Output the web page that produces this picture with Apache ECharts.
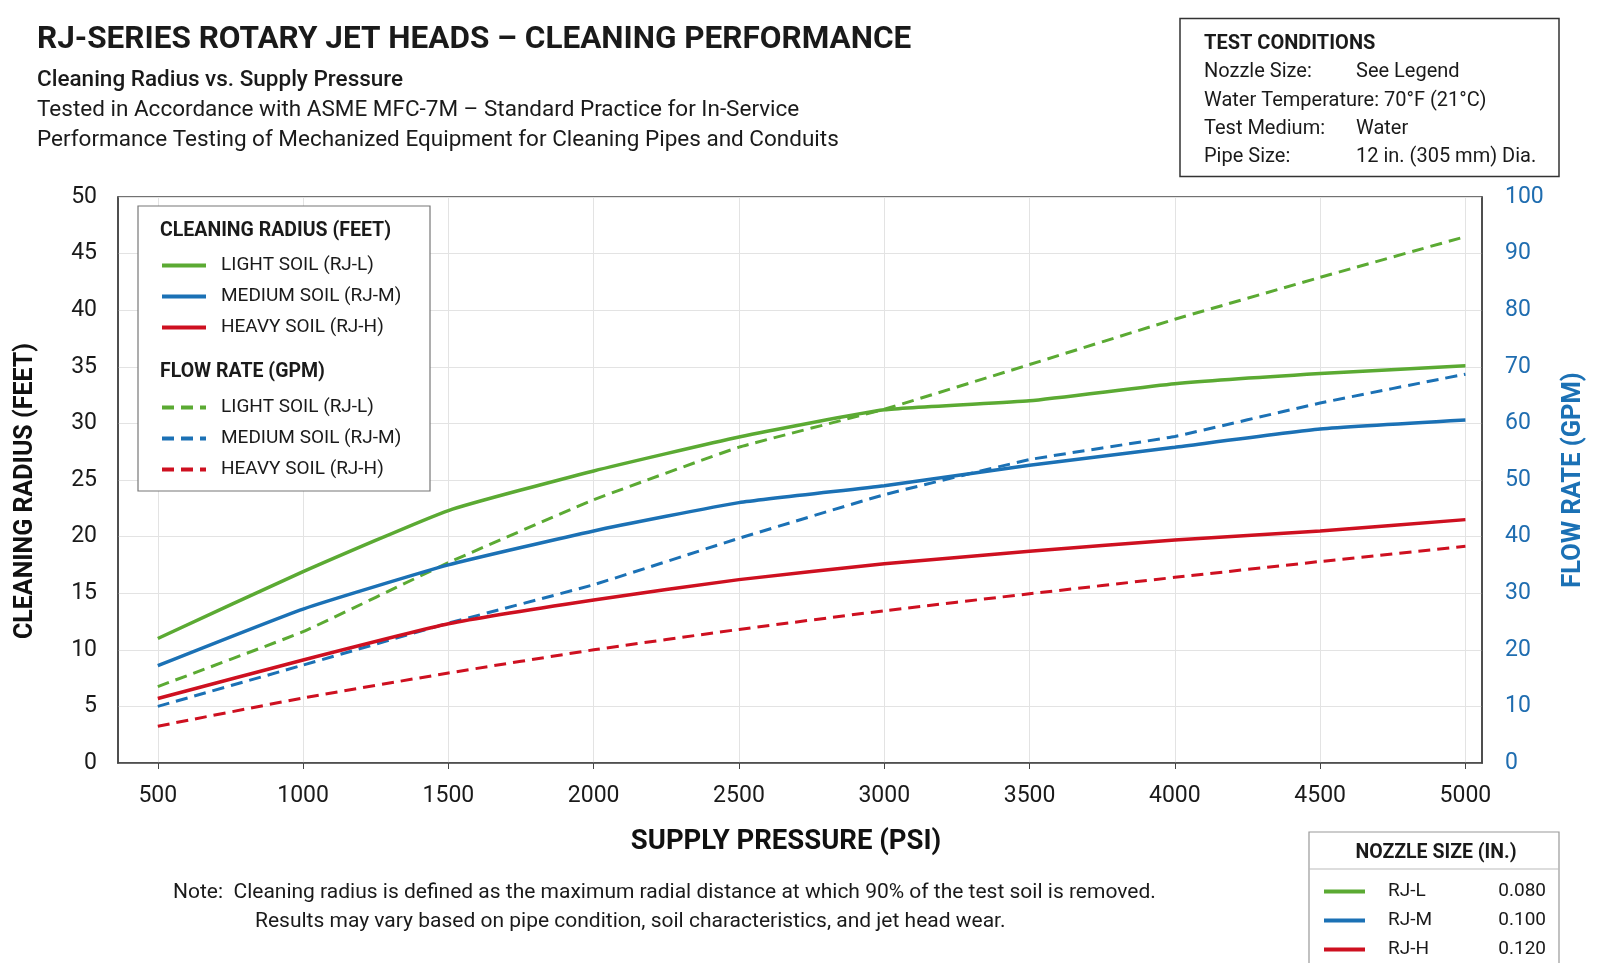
<!DOCTYPE html>
<html>
<head>
<meta charset="utf-8">
<title>RJ-Series Rotary Jet Heads – Cleaning Performance</title>
<script src="https://cdn.jsdelivr.net/npm/echarts@6/dist/echarts.min.js"></script>
<style>
  html, body { margin: 0; padding: 0; background: #fff; }
  #chart { width: 1600px; height: 963px; }
</style>
</head>
<body>
<div id="chart"></div>
<script>
// supply pressure (psi) and tick labels
const pressure = [500, 1000, 1500, 2000, 2500, 3000, 3500, 4000, 4500, 5000];
const pressureTicks = [500, 1000, 1500, 2000, 2500, 3000, 3500, 4000, 4500, 5000];

// cleaning radius (feet) - left axis
const radiusLight  = [11.0, 16.9, 22.3, 25.8, 28.8, 31.2, 32.0, 33.5, 34.4, 35.1];
const radiusMedium = [8.6, 13.6, 17.5, 20.5, 23.0, 24.5, 26.3, 27.9, 29.5, 30.3];
const radiusHeavy  = [5.7, 9.1, 12.3, 14.4, 16.2, 17.6, 18.7, 19.7, 20.5, 21.5];

// flow rate (gpm) - right axis
const flowLight  = [13.5, 23.2, 35.4, 46.5, 55.8, 62.5, 70.4, 78.4, 85.8, 93.0];
const flowMedium = [10.0, 17.3, 24.7, 31.5, 39.7, 47.4, 53.6, 57.7, 63.6, 68.7];
const flowHeavy  = [6.5, 11.5, 15.9, 20.0, 23.6, 26.9, 29.9, 32.8, 35.6, 38.3];

// nozzle size table
const nozzleNames = ['RJ-L', 'RJ-M', 'RJ-H'];
const nozzleSizes = ['0.080', '0.100', '0.120'];

const soilNames = ['LIGHT SOIL (RJ-L)', 'MEDIUM SOIL (RJ-M)', 'HEAVY SOIL (RJ-H)'];
const colors = ['#5BAA33', '#1B71B5', '#CE1020'];
const FONT = 'Roboto';

const toPairs = (ys) => pressure.map((x, i) => [x, ys[i]]);

// solid = radius, dashed = flow ( trailing space keeps names unique )
const radiusSets = [radiusLight, radiusMedium, radiusHeavy];
const flowSets = [flowLight, flowMedium, flowHeavy];

const series = [];
radiusSets.forEach((d, i) => {
  series.push({
    name: soilNames[i],
    type: 'line',
    yAxisIndex: 0,
    data: toPairs(d),
    symbol: 'none',
    smooth: 0.15,
    z: 3,
    lineStyle: { color: colors[i], width: 3.5 },
    itemStyle: { color: colors[i] }
  });
});
flowSets.forEach((d, i) => {
  series.push({
    name: soilNames[i] + ' ',
    type: 'line',
    yAxisIndex: 1,
    data: toPairs(d),
    symbol: 'none',
    smooth: 0.1,
    z: 2,
    lineStyle: { color: colors[i], width: 3, type: [12, 7] },
    itemStyle: { color: colors[i] }
  });
});

const chart = echarts.init(document.getElementById('chart'), null, { renderer: 'canvas' });

const txt = (x, y, text, size, weight, extra) => ({
  type: 'text', x: x, y: y, z: 10,
  style: Object.assign({
    text: text, fontSize: size, fontWeight: weight || 'normal',
    fontFamily: FONT, fill: '#1a1a1a', verticalAlign: 'middle', align: 'left'
  }, extra || {})
});

const legendCommon = {
  orient: 'vertical',
  left: 160,
  itemWidth: 44,
  itemHeight: 14,
  itemGap: 12,
  padding: 0,
  selectedMode: false,
  itemStyle: { opacity: 0 },
  lineStyle: { width: 4 },
  textStyle: { fontSize: 19, color: '#1a1a1a', fontFamily: FONT, padding: [0, 0, 0, 10] },
  formatter: (n) => n.trim()
};

const graphic = [
  // titles
  txt(37, 40, 'RJ-SERIES ROTARY JET HEADS – CLEANING PERFORMANCE', 31.5, 'bold'),
  txt(37, 80, 'Cleaning Radius vs. Supply Pressure', 22.5, 500),
  txt(37, 110, 'Tested in Accordance with ASME MFC-7M – Standard Practice for In-Service', 22.5),
  txt(37, 140, 'Performance Testing of Mechanized Equipment for Cleaning Pipes and Conduits', 22.5),

  // axis titles
  txt(26, 491, 'CLEANING RADIUS (FEET)', 25, 'bold', { align: 'center', fill: '#111' }),
  txt(1574, 480, 'FLOW RATE (GPM)', 25.5, 'bold', { align: 'center', fill: '#1B71B5' }),
  txt(786, 842, 'SUPPLY PRESSURE (PSI)', 27.5, 'bold', { align: 'center', fill: '#111' }),

  // test conditions box
  { type: 'rect', z: 5, shape: { x: 1180, y: 18.5, width: 379, height: 158 },
    style: { fill: '#fff', stroke: '#333', lineWidth: 1.5 } },
  txt(1204, 44, 'TEST CONDITIONS', 20, 'bold'),
  txt(1204, 72, 'Nozzle Size:', 20),
  txt(1356, 72, 'See Legend', 20),
  txt(1204, 101, 'Water Temperature: 70°F (21°C)', 20),
  txt(1204, 129, 'Test Medium:', 20),
  txt(1356, 129, 'Water', 20),
  txt(1204, 157, 'Pipe Size:', 20),
  txt(1356, 157, '12 in. (305 mm) Dia.', 20),

  // in-plot legend frame and headings
  { type: 'rect', z: 3, shape: { x: 138, y: 206, width: 292, height: 285 },
    style: { fill: '#fff', stroke: '#777', lineWidth: 1.2 } },
  txt(160, 231, 'CLEANING RADIUS (FEET)', 19.5, 'bold'),
  txt(160, 372, 'FLOW RATE (GPM)', 19.5, 'bold'),

  // note
  txt(173, 893, 'Note:  Cleaning radius is defined as the maximum radial distance at which 90% of the test soil is removed.', 21),
  txt(255, 922, 'Results may vary based on pipe condition, soil characteristics, and jet head wear.', 21),

  // nozzle size table
  { type: 'rect', z: 5, shape: { x: 1309, y: 832, width: 250, height: 160 },
    style: { fill: '#fff', stroke: '#999', lineWidth: 1.2 } },
  { type: 'line', z: 6, shape: { x1: 1309, y1: 869, x2: 1559, y2: 869 },
    style: { stroke: '#bbb', lineWidth: 1 } },
  txt(1436, 853, 'NOZZLE SIZE (IN.)', 19.5, 'bold', { align: 'center' })
];
// rotate the y axis titles
graphic[4].rotation = Math.PI / 2;
graphic[5].rotation = Math.PI / 2;

nozzleNames.forEach((n, i) => {
  const y = 891.5 + i * 29;
  graphic.push({ type: 'line', z: 6, shape: { x1: 1324, y1: y, x2: 1365, y2: y },
    style: { stroke: colors[i], lineWidth: 4 } });
  graphic.push(txt(1388, y, n, 19));
  graphic.push(txt(1546, y, nozzleSizes[i], 19, 'normal', { align: 'right' }));
});

const option = {
  backgroundColor: '#fff',
  animation: false,
  textStyle: { fontFamily: FONT },
  grid: {
    left: 118, right: 118, top: 197, bottom: 200,
    show: true, borderColor: '#444', borderWidth: 1.5, backgroundColor: 'transparent'
  },
  legend: [
    Object.assign({}, legendCommon, { top: 256, data: soilNames }),
    Object.assign({}, legendCommon, { top: 398, data: soilNames.map(n => n + ' ') })
  ],
  xAxis: {
    type: 'value',
    min: 363,
    max: 5057,
    axisLine: { show: true, lineStyle: { color: '#444', width: 1.5 } },
    axisTick: { show: true, length: 6, customValues: pressureTicks, lineStyle: { color: '#444' } },
    axisLabel: {
      customValues: pressureTicks, fontSize: 23, color: '#1a1a1a', margin: 22, fontFamily: FONT,
      formatter: (v) => String(v)
    },
    splitLine: { show: true, lineStyle: { color: '#e3e3e3', width: 1 } }
  },
  yAxis: [
    {
      type: 'value', position: 'left', min: 0, max: 50, interval: 5,
      axisLine: { show: true, lineStyle: { color: '#444', width: 1.5 } },
      axisTick: { show: false },
      axisLabel: { fontSize: 23, color: '#1a1a1a', margin: 21, fontFamily: FONT },
      splitLine: { show: true, lineStyle: { color: '#e3e3e3', width: 1 } }
    },
    {
      type: 'value', position: 'right', min: 0, max: 100, interval: 10,
      axisLine: { show: true, lineStyle: { color: '#444', width: 1.5 } },
      axisTick: { show: false },
      axisLabel: { fontSize: 23, color: '#1F6DB0', margin: 23, fontFamily: FONT },
      splitLine: { show: false }
    }
  ],
  series: series,
  graphic: graphic
};

chart.setOption(option);
</script>
</body>
</html>
